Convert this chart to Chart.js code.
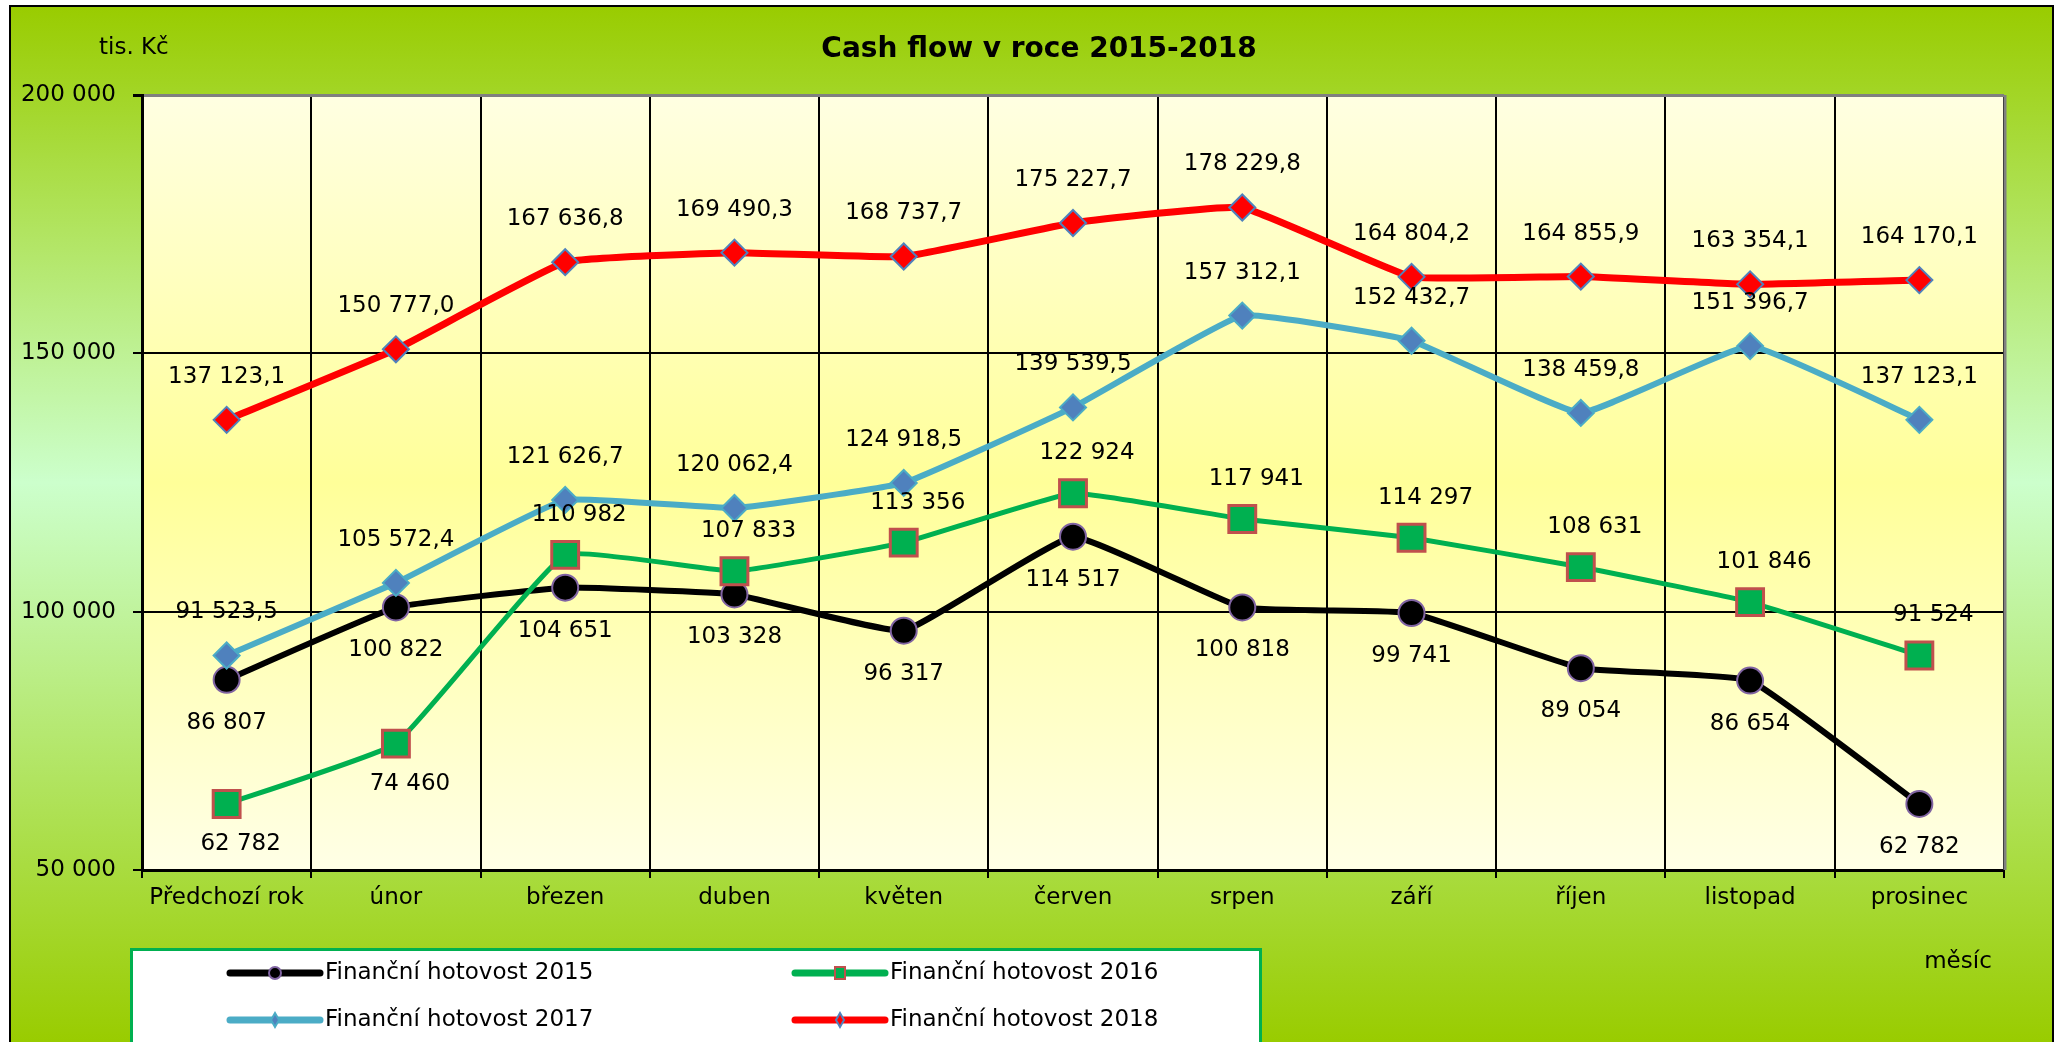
<!DOCTYPE html>
<html>
<head>
<meta charset="utf-8">
<title>Cash flow v roce 2015-2018</title>
<script src="https://cdn.jsdelivr.net/npm/chart.js@4.4.0/dist/chart.umd.min.js"></script>
<style>
  html, body { margin: 0; padding: 0; background: #fff; }
</style>
</head>
<body>
<canvas id="cashflow" width="2062" height="1042"></canvas>
<script>
// hodnoty v tis. Kč
const MESICE = ['Předchozí rok', 'únor', 'březen', 'duben', 'květen', 'červen', 'srpen', 'září', 'říjen', 'listopad', 'prosinec'];
const HOTOVOST_2015 = [86807, 100822, 104651, 103328, 96317, 114517, 100818, 99741, 89054, 86654, 62782];
const HOTOVOST_2016 = [62782, 74460, 110982, 107833, 113356, 122924, 117941, 114297, 108631, 101846, 91524];
const HOTOVOST_2017 = [91523.5, 105572.4, 121626.7, 120062.4, 124918.5, 139539.5, 157312.1, 152432.7, 138459.8, 151396.7, 137123.1];
const HOTOVOST_2018 = [137123.1, 150777.0, 167636.8, 169490.3, 168737.7, 175227.7, 178229.8, 164804.2, 164855.9, 163354.1, 164170.1];
const OSA_Y = { min: 50000, max: 200000, krok: 50000 };

const PISMO = '"DejaVu Sans", "Liberation Sans", sans-serif';

// české formátování čísel: mezera mezi tisíci, desetinná čárka
function cislo(v, des) {
  var s = v.toFixed(des).split('.');
  var cele = s[0].replace(/\B(?=(\d{3})+(?!\d))/g, ' ');
  return des ? cele + ',' + s[1] : cele;
}

Chart.defaults.font.family = PISMO;
Chart.defaults.font.size = 23;
Chart.defaults.color = '#000';

const pozadi = {
  id: 'pozadi',
  beforeDraw(chart) {
    const ctx = chart.ctx;
    const a = chart.chartArea;
    ctx.save();
    ctx.fillStyle = '#fff';
    ctx.fillRect(0, 0, chart.width, chart.height);
    var g = ctx.createLinearGradient(0, 6, 0, chart.height);
    g.addColorStop(0, '#99CC00');
    g.addColorStop(0.46, '#CCFFCC');
    g.addColorStop(1, '#99CC00');
    ctx.fillStyle = g;
    ctx.fillRect(10, 6, 2043, chart.height);
    ctx.strokeStyle = '#000';
    ctx.lineWidth = 2;
    ctx.strokeRect(10, 6, 2043, chart.height + 10);
    var p = ctx.createLinearGradient(0, a.top, 0, a.bottom);
    p.addColorStop(0, '#FFFFE2');
    p.addColorStop(0.5, '#FFFF99');
    p.addColorStop(1, '#FFFFE6');
    ctx.fillStyle = p;
    ctx.fillRect(a.left, a.top, a.right - a.left, a.bottom - a.top);
    ctx.restore();
  },
  afterDraw(chart) {
    const ctx = chart.ctx;
    const a = chart.chartArea;
    ctx.save();
    // pravý okraj plochy
    ctx.strokeStyle = '#808080';
    ctx.lineWidth = 3;
    ctx.beginPath();
    ctx.moveTo(a.right + 1, a.top);
    ctx.lineTo(a.right + 1, a.bottom);
    ctx.stroke();

    ctx.fillStyle = '#000';
    ctx.textBaseline = 'middle';
    ctx.textAlign = 'center';
    ctx.font = 'bold 28px ' + PISMO;
    ctx.fillText('Cash flow v roce 2015-2018', 1039, 50);
    ctx.font = '23px ' + PISMO;
    ctx.textAlign = 'left';
    ctx.fillText('tis. Kč', 99, 48);
    ctx.textAlign = 'center';
    ctx.fillText('měsíc', 1958, 962);

    // legenda
    ctx.fillStyle = '#fff';
    ctx.fillRect(131, 949, 1129, 100);
    ctx.strokeStyle = '#00B050';
    ctx.lineWidth = 3;
    ctx.strokeRect(131.5, 949.5, 1129, 120);
    var sloupce = [230, 795], radky = [973, 1020];
    chart.data.datasets.forEach(function(ds, i) {
      var x = sloupce[i % 2], y = radky[Math.floor(i / 2)];
      ctx.strokeStyle = ds.borderColor;
      ctx.lineWidth = 7;
      ctx.lineCap = 'round';
      ctx.beginPath();
      ctx.moveTo(x, y);
      ctx.lineTo(x + 90, y);
      ctx.stroke();
      var cx = x + 45;
      ctx.fillStyle = ds.pointBackgroundColor;
      ctx.strokeStyle = ds.pointBorderColor;
      ctx.lineWidth = 2;
      ctx.beginPath();
      if (ds.pointStyle === 'circle') ctx.arc(cx, y, 6, 0, Math.PI * 2);
      else if (ds.pointStyle === 'rect') ctx.rect(cx - 5, y - 6, 10, 12);
      else { ctx.moveTo(cx, y - 7); ctx.lineTo(cx + 4, y); ctx.lineTo(cx, y + 7); ctx.lineTo(cx - 4, y); ctx.closePath(); }
      ctx.fill();
      ctx.stroke();
      ctx.fillStyle = '#000';
      ctx.textAlign = 'left';
      ctx.fillText(ds.label, x + 95, y);
    });
    ctx.restore();
  }
};

const popisky = {
  id: 'popisky',
  afterDatasetsDraw(chart) {
    const ctx = chart.ctx;
    ctx.save();
    ctx.font = '23px ' + PISMO;
    ctx.fillStyle = '#000';
    ctx.textAlign = 'center';
    ctx.textBaseline = 'middle';
    chart.data.datasets.forEach(function(ds, i) {
      var pp = ds.popisek;
      chart.getDatasetMeta(i).data.forEach(function(pt, j) {
        var pod = pp.pod.indexOf(j) >= 0;
        ctx.fillText(cislo(ds.data[j], pp.des), pt.x + pp.dx, pt.y + (pod ? pp.dolu : -pp.nahoru));
      });
    });
    ctx.restore();
  }
};

const data = {
  labels: MESICE,
  datasets: [
    {
      label: 'Finanční hotovost 2015',
      data: HOTOVOST_2015,
      borderColor: '#000000',
      borderWidth: 6,
      pointStyle: 'circle',
      pointRadius: 13,
      pointBackgroundColor: '#000000',
      pointBorderColor: '#8064A2',
      pointBorderWidth: 2,
      order: 3,
      popisek: { des: 0, dx: 0, nahoru: 0, dolu: 43, pod: [0, 1, 2, 3, 4, 5, 6, 7, 8, 9, 10] }
    },
    {
      label: 'Finanční hotovost 2016',
      data: HOTOVOST_2016,
      borderColor: '#00B050',
      borderWidth: 5,
      pointStyle: 'rect',
      pointRadius: 19,
      pointBackgroundColor: '#00B050',
      pointBorderColor: '#C0504D',
      pointBorderWidth: 3,
      order: 2,
      popisek: { des: 0, dx: 14, nahoru: 40, dolu: 40, pod: [0, 1] }
    },
    {
      label: 'Finanční hotovost 2017',
      data: HOTOVOST_2017,
      borderColor: '#4BACC6',
      borderWidth: 6,
      pointStyle: 'rectRot',
      pointRadius: 13,
      pointBackgroundColor: '#4F81BD',
      pointBorderColor: '#4BACC6',
      pointBorderWidth: 2,
      order: 1,
      popisek: { des: 1, dx: 0, nahoru: 43, dolu: 43, pod: [] }
    },
    {
      label: 'Finanční hotovost 2018',
      data: HOTOVOST_2018,
      borderColor: '#FF0000',
      borderWidth: 7,
      pointStyle: 'rectRot',
      pointRadius: 13,
      pointBackgroundColor: '#FF0000',
      pointBorderColor: '#4F81BD',
      pointBorderWidth: 2,
      order: 0,
      popisek: { des: 1, dx: 0, nahoru: 43, dolu: 43, pod: [] }
    }
  ]
};

const config = {
  type: 'line',
  data: data,
  options: {
    responsive: false,
    devicePixelRatio: 1,
    animation: false,
    events: [],
    layout: { padding: { left: 0, top: 95, right: 58, bottom: 112 } },
    elements: { line: { tension: 0.1, borderJoinStyle: 'round' } },
    plugins: {
      legend: { display: false },
      title: { display: false },
      tooltip: { enabled: false }
    },
    scales: {
      x: {
        offset: true,
        grid: { offset: true, color: '#000', lineWidth: 2, tickLength: 8, tickColor: '#000' },
        border: { color: '#000', width: 3 },
        ticks: { padding: 6, maxRotation: 0, autoSkip: false },
        afterFit: function(scale) { scale.height = 60; }
      },
      y: {
        min: OSA_Y.min,
        max: OSA_Y.max,
        grid: {
          color: function(c) { return c.tick && c.tick.value === OSA_Y.max ? '#808080' : '#000'; },
          lineWidth: function(c) { return c.tick && c.tick.value === OSA_Y.max ? 3 : 2; },
          tickLength: 9,
          tickColor: '#000'
        },
        border: { color: '#000', width: 3 },
        ticks: {
          stepSize: OSA_Y.krok,
          padding: 17,
          callback: function(v) { return cislo(v, 0); }
        },
        afterFit: function(scale) { scale.width = 142; }
      }
    }
  },
  plugins: [pozadi, popisky]
};

const graf = new Chart(document.getElementById('cashflow'), config);
</script>
</body>
</html>
